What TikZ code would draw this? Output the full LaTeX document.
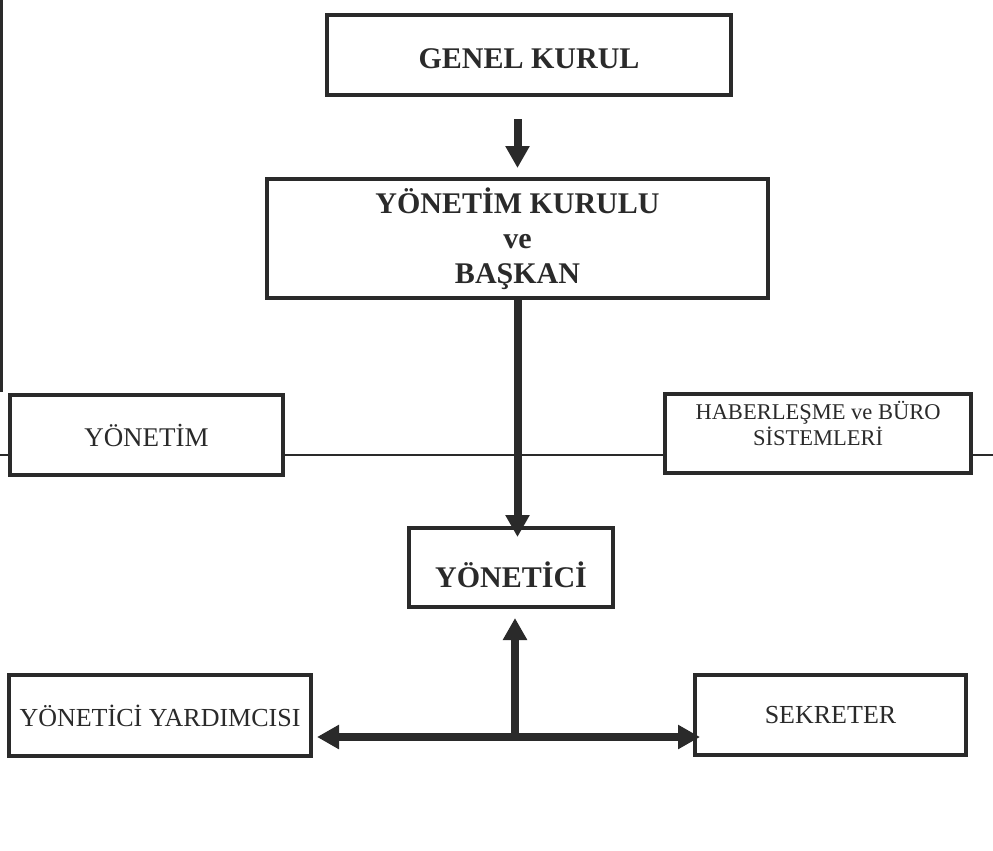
\documentclass[tikz,border=0pt]{standalone}
\usepackage{fontspec}
\setmainfont{Liberation Serif}
\usetikzlibrary{arrows.meta, positioning}
\definecolor{inkgray}{RGB}{42, 42, 42}
\tikzset{
  orgbox/.style={
    rectangle,
    draw=inkgray,
    line width=4pt,
    fill=white,
    inner sep=2pt,
    align=center,
    text=inkgray
  },
  boldbig/.style={font=\fontsize{30}{35}\selectfont\bfseries},
  fatarrow/.style={
    draw=inkgray,
    line width=8pt,
    -{Triangle[width=23pt,length=22pt]}
  },
  thinrule/.style={
    draw=inkgray,
    line width=1.6pt
  }
}
\begin{document}
\begin{tikzpicture}[x=1pt, y=-1pt]
  \useasboundingbox (0,0) rectangle (993,851);
  % boxes
  \node[orgbox, boldbig, minimum width=404pt, minimum height=80pt, text height=28pt] (genel) at (529,55) {GENEL KURUL};
  \node[orgbox, boldbig, minimum width=501pt, minimum height=119pt] (kurul) at (517.5,238.5) {YÖNETİM KURULU\\ve\\BAŞKAN};
  \node[orgbox, minimum width=273pt, minimum height=80pt, font=\fontsize{27}{32}\selectfont] (yonetim) at (146.5,435) {YÖNETİM};
  \node[orgbox, minimum width=306pt, minimum height=79pt, font=\fontsize{22.5}{26}\selectfont, text depth=20pt] (haber) at (818,433.5) {HABERLEŞME ve BÜRO\\SİSTEMLERİ};
  \node[orgbox, boldbig, minimum width=204pt, minimum height=79pt, text height=40pt] (yonetici) at (511,567.5) {YÖNETİCİ};
  \node[orgbox, minimum width=302pt, minimum height=81pt, font=\fontsize{26}{30}\selectfont] (yardimci) at (160,715.5) {YÖNETİCİ YARDIMCISI};
  \node[orgbox, minimum width=271pt, minimum height=80pt, font=\fontsize{26}{30}\selectfont] (sekreter) at (830.5,715) {SEKRETER};

  % page edge and thin rule
  \coordinate (edgeT) at (1.5,0);
  \coordinate (edgeB) at (1.5,392);
  \draw[draw=inkgray, line width=3pt] (edgeT) -- (edgeB);
  \coordinate (ruleL) at (0,455);
  \coordinate (ruleR) at (993,455);
  \draw[thinrule] (ruleL) -- (ruleL -| yonetim.west);
  \draw[thinrule] (yonetim.east |- ruleL) -- (haber.west |- ruleL);
  \draw[thinrule] (haber.east |- ruleL) -- (ruleR);

  % arrows
  \draw[fatarrow, shorten <=22pt, shorten >=9pt] (genel.south -| kurul.north) -- (kurul.north);
  \draw[fatarrow, shorten >=-11pt] (kurul.south) -- (kurul.south |- yonetici.north);
  \coordinate (tj) at (515,737);
  \draw[fatarrow, shorten >=9pt] (tj) -- (tj |- yonetici.south);
  \draw[fatarrow, shorten >=4pt] (tj) -- (tj -| yardimci.east);
  \draw[fatarrow, shorten >=-7pt] (tj) -- (tj -| sekreter.west);
\end{tikzpicture}
\end{document}
